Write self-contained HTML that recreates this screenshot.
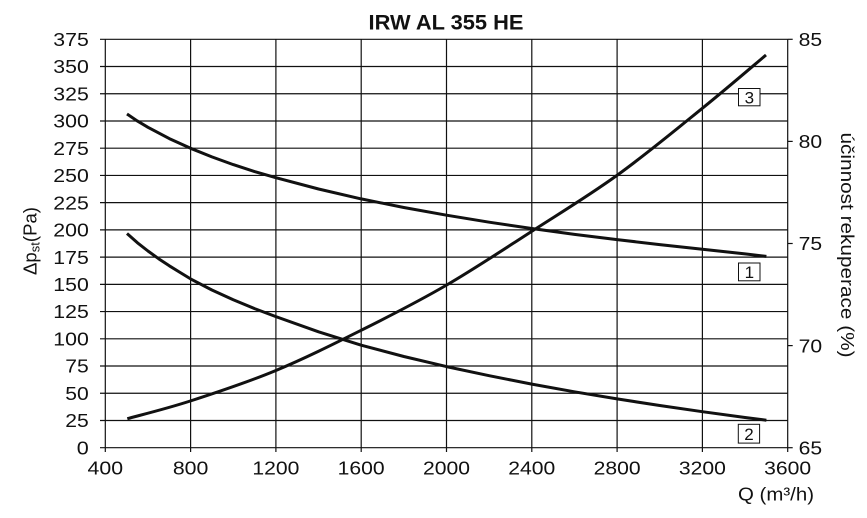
<!DOCTYPE html>
<html>
<head>
<meta charset="utf-8">
<style>
html,body{margin:0;padding:0;background:#fff;}
svg{display:block;}
text{font-family:"Liberation Sans",Arial,sans-serif;fill:#111;}
</style>
</head>
<body>
<svg width="867" height="518" viewBox="0 0 867 518" xmlns="http://www.w3.org/2000/svg">
<rect width="867" height="518" fill="#fff"/>
<!-- title -->
<text x="446" y="29.3" font-size="21" font-weight="bold" text-anchor="middle" textLength="155" lengthAdjust="spacingAndGlyphs">IRW AL 355 HE</text>

<!-- grid -->
<g stroke="#111" stroke-width="1.2" fill="none">
<line x1="100" y1="447.7" x2="787.7" y2="447.7"/>
<line x1="100" y1="420.47" x2="787.7" y2="420.47"/>
<line x1="100" y1="393.25" x2="787.7" y2="393.25"/>
<line x1="100" y1="366.02" x2="787.7" y2="366.02"/>
<line x1="100" y1="338.79" x2="787.7" y2="338.79"/>
<line x1="100" y1="311.57" x2="787.7" y2="311.57"/>
<line x1="100" y1="284.34" x2="787.7" y2="284.34"/>
<line x1="100" y1="257.11" x2="787.7" y2="257.11"/>
<line x1="100" y1="229.89" x2="787.7" y2="229.89"/>
<line x1="100" y1="202.66" x2="787.7" y2="202.66"/>
<line x1="100" y1="175.43" x2="787.7" y2="175.43"/>
<line x1="100" y1="148.21" x2="787.7" y2="148.21"/>
<line x1="100" y1="120.98" x2="787.7" y2="120.98"/>
<line x1="100" y1="93.75" x2="787.7" y2="93.75"/>
<line x1="100" y1="66.53" x2="787.7" y2="66.53"/>
<line x1="100" y1="39.3" x2="787.7" y2="39.3"/>

<line x1="105.3" y1="39.3" x2="105.3" y2="452"/>
<line x1="190.6" y1="39.3" x2="190.6" y2="452"/>
<line x1="275.9" y1="39.3" x2="275.9" y2="452"/>
<line x1="361.2" y1="39.3" x2="361.2" y2="452"/>
<line x1="446.5" y1="39.3" x2="446.5" y2="452"/>
<line x1="531.8" y1="39.3" x2="531.8" y2="452"/>
<line x1="617.1" y1="39.3" x2="617.1" y2="452"/>
<line x1="702.4" y1="39.3" x2="702.4" y2="452"/>
<line x1="787.7" y1="39.3" x2="787.7" y2="452"/>

<line x1="787.7" y1="39.3" x2="792.7" y2="39.3"/>
<line x1="787.7" y1="141.4" x2="792.7" y2="141.4"/>
<line x1="787.7" y1="243.5" x2="792.7" y2="243.5"/>
<line x1="787.7" y1="345.6" x2="792.7" y2="345.6"/>
<line x1="787.7" y1="447.7" x2="792.7" y2="447.7"/>
</g>

<!-- left tick labels -->
<g font-size="18.6" text-anchor="end">
<text x="88.8" y="454.35" textLength="12" lengthAdjust="spacingAndGlyphs">0</text>
<text x="88.8" y="427.1" textLength="23.5" lengthAdjust="spacingAndGlyphs">25</text>
<text x="88.8" y="399.9" textLength="23.5" lengthAdjust="spacingAndGlyphs">50</text>
<text x="88.8" y="372.7" textLength="23.5" lengthAdjust="spacingAndGlyphs">75</text>
<text x="88.8" y="345.45" textLength="35.5" lengthAdjust="spacingAndGlyphs">100</text>
<text x="88.8" y="318.2" textLength="35.5" lengthAdjust="spacingAndGlyphs">125</text>
<text x="88.8" y="291" textLength="35.5" lengthAdjust="spacingAndGlyphs">150</text>
<text x="88.8" y="263.75" textLength="35.5" lengthAdjust="spacingAndGlyphs">175</text>
<text x="88.8" y="236.55" textLength="35.5" lengthAdjust="spacingAndGlyphs">200</text>
<text x="88.8" y="209.3" textLength="35.5" lengthAdjust="spacingAndGlyphs">225</text>
<text x="88.8" y="182.1" textLength="35.5" lengthAdjust="spacingAndGlyphs">250</text>
<text x="88.8" y="154.85" textLength="35.5" lengthAdjust="spacingAndGlyphs">275</text>
<text x="88.8" y="127.6" textLength="35.5" lengthAdjust="spacingAndGlyphs">300</text>
<text x="88.8" y="100.4" textLength="35.5" lengthAdjust="spacingAndGlyphs">325</text>
<text x="88.8" y="73.2" textLength="35.5" lengthAdjust="spacingAndGlyphs">350</text>
<text x="88.8" y="45.95" textLength="35.5" lengthAdjust="spacingAndGlyphs">375</text>
</g>

<!-- right tick labels -->
<g font-size="18.6" text-anchor="start">
<text x="798.6" y="45.95" textLength="23.5" lengthAdjust="spacingAndGlyphs">85</text>
<text x="798.6" y="148.05" textLength="23.5" lengthAdjust="spacingAndGlyphs">80</text>
<text x="798.6" y="250.15" textLength="23.5" lengthAdjust="spacingAndGlyphs">75</text>
<text x="798.6" y="352.25" textLength="23.5" lengthAdjust="spacingAndGlyphs">70</text>
<text x="798.6" y="454.35" textLength="23.5" lengthAdjust="spacingAndGlyphs">65</text>
</g>

<!-- bottom tick labels -->
<g font-size="18.6" text-anchor="middle">
<text x="105.3" y="474.3" textLength="35.5" lengthAdjust="spacingAndGlyphs">400</text>
<text x="190.6" y="474.3" textLength="35.5" lengthAdjust="spacingAndGlyphs">800</text>
<text x="275.9" y="474.3" textLength="47" lengthAdjust="spacingAndGlyphs">1200</text>
<text x="361.2" y="474.3" textLength="47" lengthAdjust="spacingAndGlyphs">1600</text>
<text x="446.5" y="474.3" textLength="47" lengthAdjust="spacingAndGlyphs">2000</text>
<text x="531.8" y="474.3" textLength="47" lengthAdjust="spacingAndGlyphs">2400</text>
<text x="617.1" y="474.3" textLength="47" lengthAdjust="spacingAndGlyphs">2800</text>
<text x="702.4" y="474.3" textLength="47" lengthAdjust="spacingAndGlyphs">3200</text>
<text x="787.7" y="474.3" textLength="47" lengthAdjust="spacingAndGlyphs">3600</text>
</g>

<!-- axis titles -->
<text x="738" y="500.5" font-size="18.6" textLength="76" lengthAdjust="spacingAndGlyphs">Q (m³/h)</text>
<text transform="translate(36.5,241) rotate(-90)" font-size="18.6" text-anchor="middle">Δp<tspan font-size="13" dy="3">st</tspan><tspan dy="-3">(Pa)</tspan></text>
<text transform="translate(841,245) rotate(90)" font-size="18.6" text-anchor="middle" textLength="225" lengthAdjust="spacingAndGlyphs">účinnost rekuperace (%)</text>

<!-- curves -->
<g stroke="#111" stroke-width="3" fill="none" stroke-linejoin="round" stroke-linecap="butt">
<polyline points="127,114 137.3,120.96 147.95,127.3 169.3,138.6 190.6,148.3 211.9,156.9 233.25,164.6 254.6,171.6 275.9,177.7 318.55,189 361.2,198.9 403.85,207.5 446.5,215.2 489.15,222.2 531.8,228.5 574.45,234.4 617.1,239.6 659.75,244.6 702.4,249.3 745.05,253.9 766.4,256.4"/>
<polyline points="127,233.5 137.3,242.65 147.95,251 158.6,258.7 169.3,265.8 179.95,272.4 190.6,278.9 211.9,290 233.25,299.8 254.6,308.6 275.9,316.6 318.55,331.8 361.2,345.2 403.85,356.5 446.5,366.6 489.15,375.7 531.8,384.1 574.45,391.8 617.1,398.9 659.75,405.5 702.4,411.7 745.05,417.5 766.4,420.2"/>
<path d="M127.3,418.7 C137.8,415.75 165.6,409 190.3,401 C215,393 246.7,382.53 275.3,370.7 C303.9,358.87 333.1,344.28 361.7,330 C390.3,315.72 418.2,301.55 446.7,285 C475.2,268.45 504.2,249.03 532.7,230.7 C561.2,212.37 589.2,195.4 617.5,175 C645.8,154.6 677.6,128.3 702.3,108.3 C727.1,88.3 755.4,63.88 766,55"/>
</g>

<!-- curve labels -->
<g fill="#fff" stroke="#111" stroke-width="1">
<rect x="738.5" y="88.5" width="21.5" height="17.3"/>
<rect x="738.5" y="263" width="21.5" height="17.8"/>
<rect x="738.3" y="424.3" width="21.3" height="18.8"/>
</g>
<g font-size="17" text-anchor="middle">
<text x="749.3" y="103.3">3</text>
<text x="749.3" y="278.2">1</text>
<text x="749" y="440">2</text>
</g>
</svg>
</body>
</html>
